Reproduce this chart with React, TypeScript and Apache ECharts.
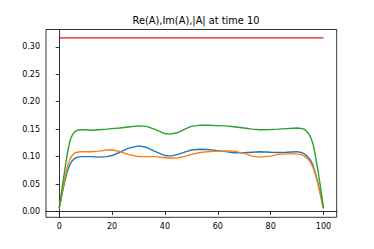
import React, { useEffect, useRef } from "react";
import * as echarts from "echarts";

const titleText = "Re(A),Im(A),|A| at time 10";
const xTicks = [0, 20, 40, 60, 80, 100];
const yTicks = [0, 0.05, 0.1, 0.15, 0.2, 0.25, 0.3];

const xs = [0, 1, 2, 3, 4, 5, 6, 7, 8, 10, 12, 15, 18, 20, 23, 26, 30, 33, 36, 40, 42, 45, 48, 50, 53, 56, 60, 63, 66, 70, 73, 76, 80, 83, 86, 90, 92, 93, 94, 95, 96, 97, 98, 99, 100];

const reA = [0.006, 0.03, 0.053, 0.072, 0.085, 0.093, 0.097, 0.099, 0.1, 0.1, 0.1, 0.099, 0.1, 0.102, 0.108, 0.115, 0.1195, 0.117, 0.11, 0.102, 0.101, 0.104, 0.109, 0.112, 0.1135, 0.113, 0.111, 0.109, 0.107, 0.107, 0.108, 0.109, 0.108, 0.1075, 0.108, 0.109, 0.107, 0.104, 0.1, 0.094, 0.085, 0.069, 0.05, 0.028, 0.006];

const imA = [0.006, 0.032, 0.058, 0.08, 0.095, 0.103, 0.107, 0.108, 0.109, 0.109, 0.109, 0.11, 0.112, 0.1125, 0.109, 0.104, 0.1, 0.1, 0.1, 0.098, 0.097, 0.098, 0.101, 0.104, 0.107, 0.109, 0.11, 0.1105, 0.11, 0.106, 0.101, 0.099, 0.101, 0.104, 0.105, 0.105, 0.103, 0.1, 0.096, 0.09, 0.081, 0.066, 0.048, 0.027, 0.006];

const absA = [0.006, 0.04, 0.072, 0.104, 0.128, 0.14, 0.146, 0.148, 0.149, 0.149, 0.148, 0.149, 0.15, 0.151, 0.152, 0.154, 0.156, 0.155, 0.15, 0.142, 0.141, 0.144, 0.151, 0.155, 0.157, 0.157, 0.1565, 0.156, 0.1545, 0.152, 0.15, 0.149, 0.1495, 0.15, 0.151, 0.152, 0.151, 0.149, 0.144, 0.137, 0.124, 0.1, 0.072, 0.04, 0.006];

const normLevel = 0.3162;

export default function App() {
  const ref = useRef<HTMLDivElement>(null);
  useEffect(() => {
    if (!ref.current) return;
    const chart = echarts.init(ref.current, null, { renderer: "svg" });
    const font = "DejaVu Sans";
    const mk = (ys: number[]) => xs.map((x, i) => [x, ys[i]]);
    const line = (name: string, data: number[][], color: string) => ({
      name,
      type: "line",
      data,
      showSymbol: false,
      symbol: "none",
      lineStyle: { color, width: 1.4 },
      itemStyle: { color },
      z: 3,
    });
    chart.setOption({
      animation: false,
      backgroundColor: "#fff",
      title: {
        text: titleText,
        left: 191,
        top: 10,
        textAlign: "center",
        textStyle: { fontFamily: font, fontSize: 9.8, fontWeight: "normal", color: "#000" },
      },
      grid: {
        left: 46,
        top: 29.5,
        right: 37.3,
        bottom: 31.7,
        show: true,
        borderColor: "#000",
        borderWidth: 0.8,
        backgroundColor: "transparent",
      },
      xAxis: {
        type: "value",
        min: -5,
        max: 105,
        splitLine: { show: false },
        axisLine: { show: true, lineStyle: { color: "#000", width: 0.8 } },
        axisTick: { show: true, length: 3.5, lineStyle: { color: "#000", width: 0.8 }, customValues: xTicks },
        axisLabel: { color: "#000", fontFamily: font, fontSize: 8, margin: 5, customValues: xTicks },
      },
      yAxis: {
        type: "value",
        min: -0.0105,
        max: 0.3315,
        splitLine: { show: false },
        axisLine: { show: true, lineStyle: { color: "#000", width: 0.8 } },
        axisTick: { show: true, length: 3.5, lineStyle: { color: "#000", width: 0.8 }, customValues: yTicks },
        axisLabel: {
          color: "#000",
          fontFamily: font,
          fontSize: 8,
          margin: 6,
          customValues: yTicks,
          formatter: (v: number) => v.toFixed(2),
        },
      },
      series: [
        line("Re(A)", mk(reA), "#1f77b4"),
        line("Im(A)", mk(imA), "#ff7f0e"),
        line("|A|", mk(absA), "#2ca02c"),
        line("norm", xs.map((x) => [x, normLevel]), "#e8141c"),
      ],
    });
    return () => chart.dispose();
  }, []);
  return (
    <div
      ref={ref}
      style={{ position: "fixed", left: 0, top: 0, width: 374, height: 249, background: "#fff" }}
    />
  );
}
